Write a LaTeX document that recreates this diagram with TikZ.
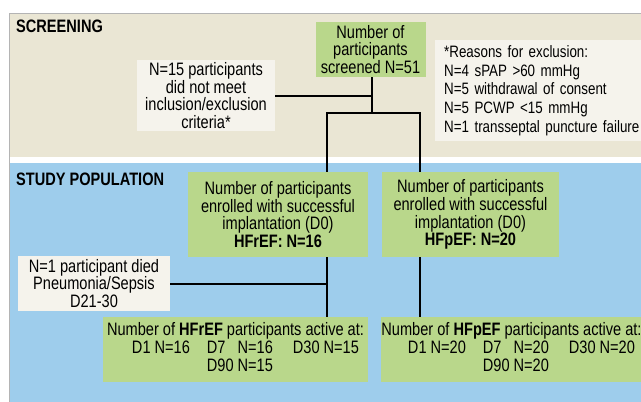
\documentclass[tikz,border=0pt]{standalone}
\usepackage{fontspec}
\setmainfont[FakeStretch=0.81]{Liberation Sans}
\usepackage{xcolor}
\definecolor{screen-bg}{HTML}{EAE6D4}
\definecolor{study-bg}{HTML}{9ECDEC}
\definecolor{box-green}{HTML}{B9D78B}
\definecolor{box-cream}{HTML}{F5F3EC}
\definecolor{frame-grey}{HTML}{B4B4B4}
\usepackage{tikz}

\begin{document}
\begin{tikzpicture}[x=1pt, y=-1pt,
    greenbox/.style={fill=box-green, inner sep=0pt, align=center, font=\fontsize{18}{17.7}\selectfont},
    creambox/.style={fill=box-cream, inner sep=0pt, align=center, font=\fontsize{18}{17.7}\selectfont},
    heading/.style={anchor=north west, inner sep=0pt, font=\fontsize{18}{18}\selectfont\bfseries},
    link/.style={line width=2pt}]

    \useasboundingbox (0, 0) rectangle (641, 402);

    % Background
    \fill[screen-bg] (9, 13) rectangle (641, 157);
    \fill[study-bg] (9, 163) rectangle (641, 402);
    \draw[frame-grey, line width=1pt] (9, 402) -- (9, 13) -- (641, 13);

    % Headings
    \node[heading] (screenhead) at (16, 20) {SCREENING};
    \node[heading] (studyhead) at (16, 173) {STUDY POPULATION};

    % Screening
    \node[greenbox, minimum width=110, minimum height=55] (screened) at (370.5, 49.5)
        {Number of\\participants\\screened N=51};
    \node[creambox, minimum width=138, minimum height=71] (excluded) at (206, 95.5)
        {N=15 participants\\did not meet\\inclusion/exclusion\\criteria*};
    \node[creambox, anchor=north west, align=left, text width=197, inner xsep=9pt,
        minimum height=101, font=\fontsize{16.5}{18.7}\selectfont] (reasons) at (435, 40)
        {*Reasons for exclusion:\\N=4 sPAP >60 mmHg\\N=5 withdrawal of consent\\N=5 PCWP <15 mmHg\\N=1 transseptal puncture failure};

    % Study population
    \node[greenbox, minimum width=180, minimum height=85] (hfref) at (278, 214.5)
        {Number of participants\\enrolled with successful\\implantation (D0)\\\textbf{HFrEF: N=16}};
    \node[greenbox, minimum width=177, minimum height=85] (hfpef) at (470.5, 214.5)
        {Number of participants\\enrolled with successful\\implantation (D0)\\\textbf{HFpEF: N=20}};
    \node[creambox, minimum width=152, minimum height=55] (died) at (94, 283.5)
        {N=1 participant died\\Pneumonia/Sepsis\\D21-30};

    % Follow-up
    \node[greenbox, minimum width=265, minimum height=65] (refactive) at (235.5, 349.5)
        {Number of \textbf{HFrEF} participants active at:\\[1pt]
        \hspace{20pt}\begin{tabular}{@{}l@{\hspace{17pt}}l@{\hspace{4pt}}l@{\hspace{20pt}}l@{}}
        D1 N=16 & D7 & N=16 & D30 N=15\\[0pt]
         & D90 & N=15 & \\
        \end{tabular}};
    \node[greenbox, minimum width=259, minimum height=65] (pefactive) at (511.5, 349.5)
        {Number of \textbf{HFpEF} participants active at:\\[1pt]
        \hspace{20pt}\begin{tabular}{@{}l@{\hspace{17pt}}l@{\hspace{4pt}}l@{\hspace{20pt}}l@{}}
        D1 N=20 & D7 & N=20 & D30 N=20\\[0pt]
         & D90 & N=20 & \\
        \end{tabular}};

    % Connectors
    \coordinate (split) at (372, 113);
    \coordinate (leftarm) at (327, 113);
    \coordinate (rightarm) at (420, 113);

    \draw[link] (screened.south -| split) -- (split);
    \draw[link] (excluded.east) -- (excluded.east -| split);
    \draw[link] (hfref.north -| leftarm) -- (leftarm) -- (rightarm) -- (hfpef.north -| rightarm);
    \draw[link] (hfref.south -| leftarm) -- (refactive.north -| leftarm);
    \draw[link] (hfpef.south -| rightarm) -- (pefactive.north -| rightarm);
    \draw[link] (died.east) -- (died.east -| leftarm);

\end{tikzpicture}
\end{document}
